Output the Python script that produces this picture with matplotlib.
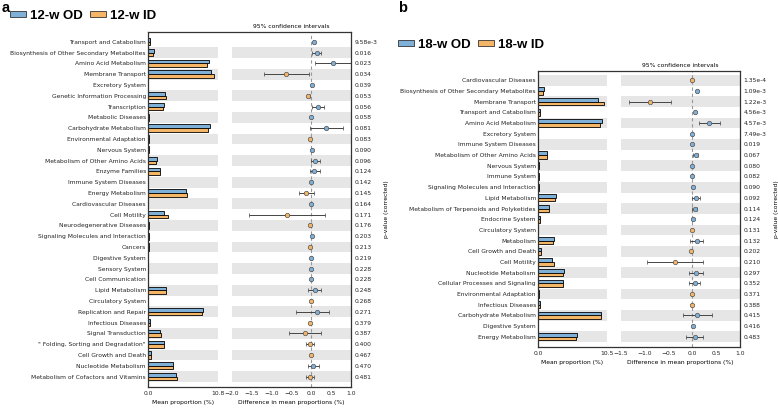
import matplotlib
matplotlib.use('Agg')
import matplotlib.pyplot as plt
from matplotlib.patches import Patch

W, H = 778, 408

BLUE = '#7fb0d8'
ORANGE = '#f5b567'
BAND = '#e6e6e6'

# ---- panel a: 12 weeks ----
cats_a = ['Transport and Catabolism', 'Biosynthesis of Other Secondary Metabolites',
          'Amino Acid Metabolism', 'Membrane Transport', 'Excretory System',
          'Genetic Information Processing', 'Transcription', 'Metabolic Diseases',
          'Carbohydrate Metabolism', 'Environmental Adaptation', 'Nervous System',
          'Metabolism of Other Amino Acids', 'Enzyme Families', 'Immune System Diseases',
          'Energy Metabolism', 'Cardiovascular Diseases', 'Cell Motility',
          'Neurodegenerative Diseases', 'Signaling Molecules and Interaction', 'Cancers',
          'Digestive System', 'Sensory System', 'Cell Communication', 'Lipid Metabolism',
          'Circulatory System', 'Replication and Repair', 'Infectious Diseases',
          'Signal Transduction', '" Folding, Sorting and Degradation"',
          'Cell Growth and Death', 'Nucleotide Metabolism',
          'Metabolism of Cofactors and Vitamins']
od_a = [0.30, 0.93, 9.50, 9.70, 0.02, 2.70, 2.43, 0.10, 9.66, 0.08, 0.10, 1.45, 1.90, 0.05,
        5.84, 0.03, 2.53, 0.15, 0.15, 0.15, 0.03, 0.02, 0.02, 2.75, 0.02, 8.50, 0.35, 1.86,
        2.53, 0.50, 3.82, 4.40]
id_a = [0.28, 0.83, 9.10, 10.30, 0.02, 2.74, 2.33, 0.10, 9.30, 0.10, 0.09, 1.30, 1.80, 0.05,
        6.00, 0.03, 3.15, 0.17, 0.14, 0.17, 0.03, 0.02, 0.02, 2.72, 0.03, 8.37, 0.37, 2.00,
        2.50, 0.51, 3.80, 4.42]
diff_a = [0.06, 0.14, 0.54, -0.63, 0.01, -0.07, 0.16, 0.005, 0.37, -0.02, 0.01, 0.10, 0.08,
          0.003, -0.13, 0.005, -0.62, -0.02, 0.01, -0.02, 0.005, 0.004, 0.004, 0.10, -0.01,
          0.15, -0.02, -0.16, -0.04, -0.01, 0.05, -0.03]
lo_a = [0.04, 0.03, 0.10, -1.18, 0.0, -0.10, 0.02, 0.0, -0.04, -0.03, 0.0, 0.0, -0.02, 0.0,
        -0.32, 0.0, -1.57, -0.03, 0.0, -0.03, 0.0, 0.0, 0.0, -0.07, -0.02, -0.38, -0.03, -0.57,
        -0.14, -0.02, -0.09, -0.13]
hi_a = [0.08, 0.25, 1.0, -0.05, 0.02, -0.03, 0.33, 0.01, 0.79, -0.01, 0.02, 0.23, 0.21, 0.01,
        0.06, 0.01, 0.34, -0.01, 0.02, -0.01, 0.01, 0.01, 0.01, 0.25, 0.0, 0.44, -0.01, 0.25,
        0.06, 0.0, 0.19, 0.06]
pval_a = ['9.58e-3', '0.016', '0.023', '0.034', '0.039', '0.053', '0.056', '0.058', '0.081',
          '0.083', '0.090', '0.096', '0.124', '0.142', '0.145', '0.164', '0.171', '0.176',
          '0.203', '0.213', '0.219', '0.228', '0.228', '0.248', '0.268', '0.271', '0.379',
          '0.387', '0.400', '0.467', '0.470', '0.481']

# ---- panel b: 18 weeks ----
cats_b = ['Cardiovascular Diseases', 'Biosynthesis of Other Secondary Metabolites',
          'Membrane Transport', 'Transport and Catabolism', 'Amino Acid Metabolism',
          'Excretory System', 'Immune System Diseases', 'Metabolism of Other Amino Acids',
          'Nervous System', 'Immune System', 'Signaling Molecules and Interaction',
          'Lipid Metabolism', 'Metabolism of Terpenoids and Polyketides', 'Endocrine System',
          'Circulatory System', 'Metabolism', 'Cell Growth and Death', 'Cell Motility',
          'Nucleotide Metabolism', 'Cellular Processes and Signaling',
          'Environmental Adaptation', 'Infectious Diseases', 'Carbohydrate Metabolism',
          'Digestive System', 'Energy Metabolism']
od_b = [0.02, 0.86, 9.20, 0.30, 9.70, 0.02, 0.03, 1.41, 0.10, 0.10, 0.15, 2.68, 1.67, 0.30,
        0.03, 2.42, 0.50, 2.17, 3.89, 3.84, 0.10, 0.35, 9.65, 0.02, 5.90]
id_b = [0.03, 0.80, 10.00, 0.28, 9.40, 0.02, 0.03, 1.38, 0.10, 0.10, 0.15, 2.66, 1.65, 0.30,
        0.03, 2.32, 0.52, 2.47, 3.86, 3.82, 0.11, 0.36, 9.55, 0.02, 5.85]
diff_b = [-0.015, 0.09, -0.90, 0.05, 0.35, 0.002, 0.002, 0.07, 0.002, 0.002, 0.003, 0.08,
          0.05, 0.003, -0.005, 0.10, -0.02, -0.36, 0.07, 0.05, -0.01, -0.01, 0.10, 0.003, 0.05]
lo_b = [-0.02, 0.07, -1.34, 0.04, 0.14, 0.0, 0.0, 0.02, 0.0, 0.0, 0.0, -0.01, 0.0, 0.0, -0.01,
        -0.05, -0.03, -0.96, -0.08, -0.08, -0.02, -0.02, -0.20, 0.0, -0.13]
hi_b = [-0.01, 0.11, -0.45, 0.06, 0.57, 0.005, 0.005, 0.12, 0.005, 0.005, 0.006, 0.16, 0.10,
        0.006, 0.0, 0.23, -0.01, 0.23, 0.22, 0.17, 0.0, 0.0, 0.42, 0.006, 0.23]
pval_b = ['1.35e-4', '1.09e-3', '1.22e-3', '4.56e-3', '4.57e-3', '7.49e-3', '0.019', '0.067',
          '0.080', '0.082', '0.090', '0.092', '0.114', '0.124', '0.131', '0.132', '0.202',
          '0.210', '0.297', '0.352', '0.371', '0.388', '0.415', '0.416', '0.483']

FS = 4.3


def rect(x0, y0, x1, y1):
    # pixel box -> figure fraction
    return [x0 / W, 1 - y1 / H, (x1 - x0) / W, (y1 - y0) / H]


def draw_panel(fig, cats, od, idd, diff, lo, hi, pvals, bar_max, dlim, box, bar_right, diff_left):
    x0, y0, x1, y1 = box
    n = len(cats)
    ys = [n - 1 - i for i in range(n)]
    ylim = (-0.96, n - 1 + 0.9)

    bar_ax = fig.add_axes(rect(x0, y0, bar_right, y1))
    diff_ax = fig.add_axes(rect(diff_left, y0, x1, y1))
    frame = fig.add_axes(rect(x0, y0, x1, y1), zorder=5)
    frame.patch.set_visible(False)

    for ax in (bar_ax, diff_ax):
        for s in ax.spines.values():
            s.set_visible(False)
        ax.set_ylim(*ylim)
        ax.tick_params(length=0, labelsize=FS, pad=3, colors='#222222')
        for y in ys:
            if y % 2 == 0:
                ax.axhspan(y - 0.5, y + 0.5, color=BAND, lw=0, zorder=0)

    # mean proportions
    bar_ax.barh([y + 0.17 for y in ys], od, height=0.34, color=BLUE, edgecolor='black', lw=0.6, zorder=2)
    bar_ax.barh([y - 0.17 for y in ys], idd, height=0.34, color=ORANGE, edgecolor='black', lw=0.6, zorder=2)
    bar_ax.set_xlim(0, bar_max)
    bar_ax.set_xticks([0, bar_max])
    bar_ax.set_xticklabels(['0.0', f'{bar_max:.1f}'])
    bar_ax.set_yticks(ys)
    bar_ax.set_yticklabels(cats)
    bar_ax.tick_params(axis='y', pad=1.5)
    bar_ax.set_xlabel('Mean proportion (%)', fontsize=FS, labelpad=3)

    # difference with CI
    diff_ax.axvline(0, color='#999999', ls='--', lw=0.8, dashes=(3, 2.5), zorder=1)
    for y, d, l, h in zip(ys, diff, lo, hi):
        c = BLUE if d > 0 else ORANGE
        diff_ax.errorbar(d, y, xerr=[[d - l], [h - d]], fmt='o', ms=3.2, mfc=c, mec='#555555',
                         mew=0.5, ecolor='#444444', elinewidth=0.7, capsize=1.6, capthick=0.7, zorder=3)
    diff_ax.set_xlim(*dlim)
    ticks = [dlim[0] + 0.5 * k for k in range(int(round((dlim[1] - dlim[0]) / 0.5)) + 1)]
    diff_ax.set_xticks(ticks)
    diff_ax.set_xticklabels([f'{t:.1f}'.replace('-', '\u2212') for t in ticks])
    diff_ax.set_yticks([])
    diff_ax.set_xlabel('Difference in mean proportions (%)', fontsize=FS, labelpad=3)
    diff_ax.set_title('95% confidence intervals', fontsize=FS, pad=3)

    # outer frame + p-values
    frame.set_xticks([])
    frame.set_ylim(*ylim)
    frame.yaxis.tick_right()
    frame.set_yticks(ys)
    frame.set_yticklabels(pvals)
    frame.tick_params(axis='y', length=0, labelsize=FS, pad=2.5, colors='#222222')
    frame.yaxis.set_label_position('right')
    frame.set_ylabel('p-value (corrected)', fontsize=FS, labelpad=5)
    for s in frame.spines.values():
        s.set_linewidth(0.9)
        s.set_color('#333333')


fig = plt.figure(figsize=(W / 100, H / 100), dpi=100)

draw_panel(fig, cats_a, od_a, id_a, diff_a, lo_a, hi_a, pval_a, 10.8, (-2.0, 1.0),
           (148, 32, 351, 387), 217.7, 231.7)
draw_panel(fig, cats_b, od_b, id_b, diff_b, lo_b, hi_b, pval_b, 10.5, (-1.5, 1.0),
           (538, 70.7, 740, 347), 607, 621)

lfont = {'family': 'Liberation Sans', 'weight': 'bold', 'size': 9.5}
for lab, labels, lx, ly in [('a', ['12-w OD', '12-w ID'], 10, 16),
                            ('b', ['18-w OD', '18-w ID'], 398, 45)]:
    handles = [Patch(facecolor=BLUE, edgecolor='#333333', lw=0.6, label=labels[0]),
               Patch(facecolor=ORANGE, edgecolor='#333333', lw=0.6, label=labels[1])]
    fig.legend(handles=handles, loc='center left', bbox_to_anchor=(lx / W, 1 - ly / H),
               ncol=2, frameon=False, prop=lfont, handlelength=1.2, handleheight=0.35,
               handletextpad=0.3, columnspacing=0.6, borderpad=0, borderaxespad=0)

fig.text(2 / W, 1 - 1 / H, 'a', fontsize=10.5, fontweight='bold', family='Liberation Sans', va='top')
fig.text(398 / W, 1 - 1 / H, 'b', fontsize=10.5, fontweight='bold', family='Liberation Sans', va='top')

fig.savefig('out.png', dpi=100)
